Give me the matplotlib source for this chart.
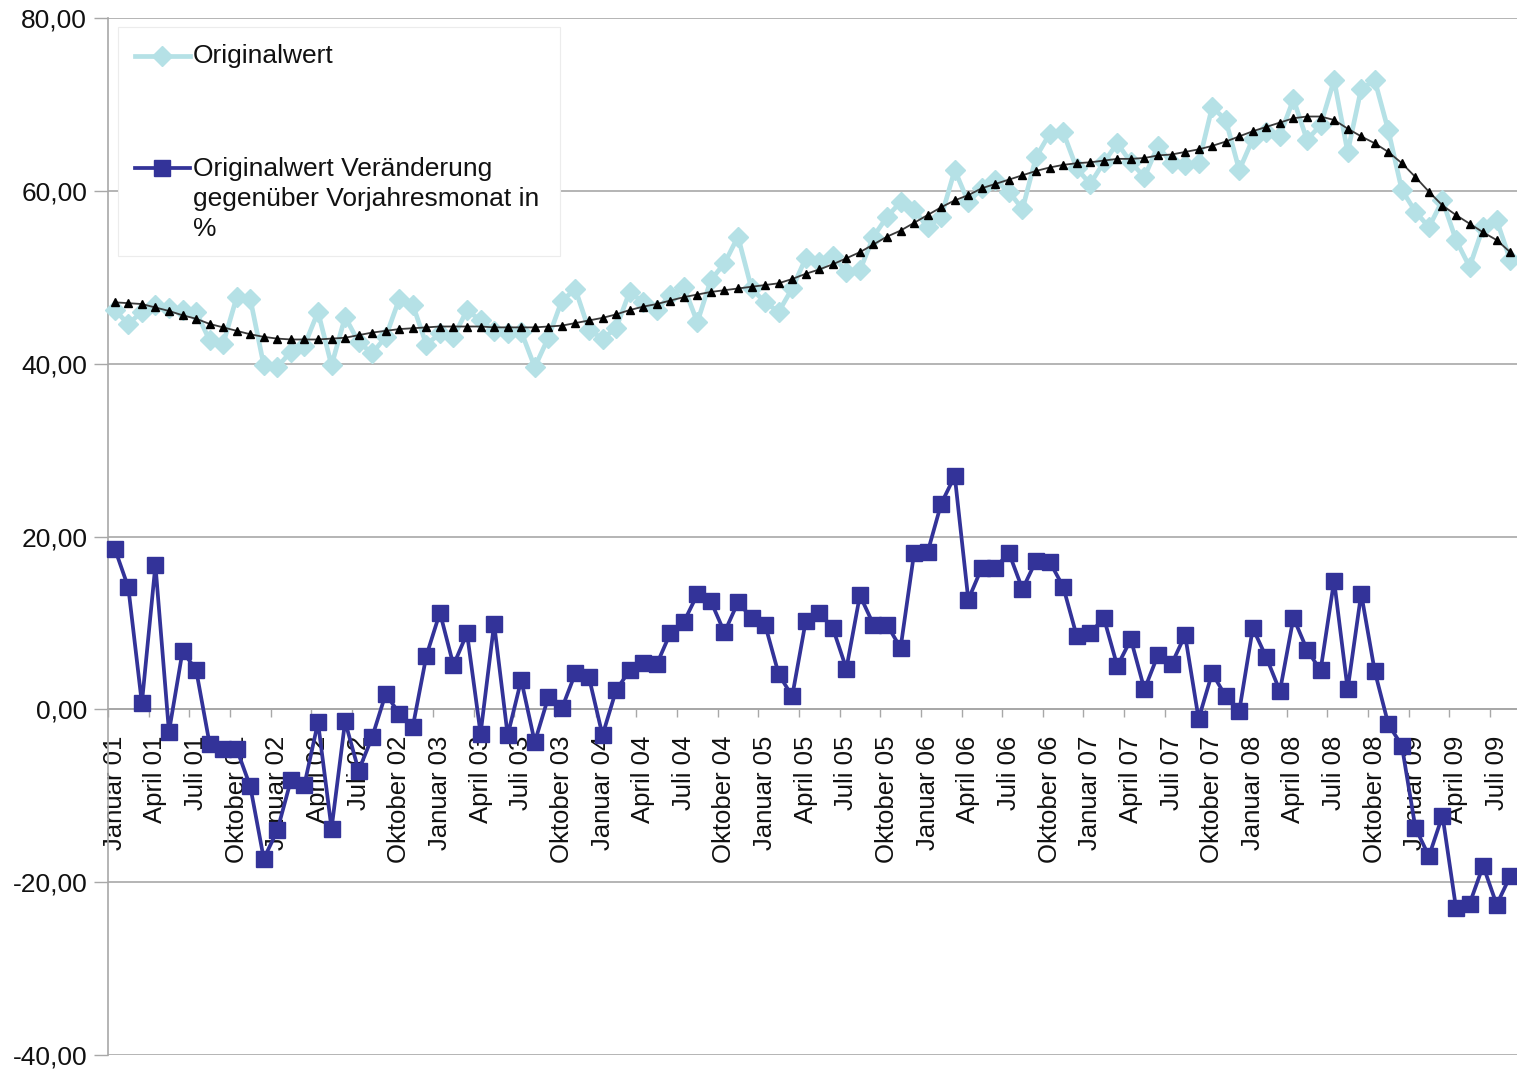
import matplotlib
matplotlib.use('Agg')
import matplotlib.pyplot as plt
from matplotlib.lines import Line2D
from matplotlib.patches import Rectangle
import numpy as np

plt.rcParams['font.family'] = ['Liberation Sans', 'DejaVu Sans']

# ---------------- data ----------------
month_names = ["Januar", "Februar", "März", "April", "Mai", "Juni", "Juli",
               "August", "September", "Oktober", "November", "Dezember"]
years = ["01", "02", "03", "04", "05", "06", "07", "08", "09"]
n_months = 104  # Januar 01 .. August 09
categories = [f"{m} {y}" for y in years for m in month_names][:n_months]

originalwert = [
    46.2, 44.6, 46.0, 46.8, 46.4, 46.2, 46.0, 42.7, 42.3, 47.7,
    47.5, 39.8, 39.6, 41.4, 42.1, 46.0, 39.8, 45.4, 42.5, 41.2,
    43.1, 47.5, 46.8, 42.2, 43.5, 43.1, 46.2, 45.0, 43.8, 43.6,
    43.7, 39.6, 43.0, 47.3, 48.6, 43.9, 42.9, 44.1, 48.3, 47.1,
    46.2, 47.9, 48.9, 44.8, 49.7, 51.6, 54.7, 48.7, 47.1, 46.0,
    48.7, 52.2, 51.8, 52.5, 50.6, 50.8, 54.7, 57.0, 58.7, 57.8,
    55.8, 57.0, 62.4, 58.7, 60.3, 61.2, 59.9, 57.9, 63.9, 66.6,
    66.8, 62.6, 60.8, 63.3, 65.5, 63.3, 61.6, 65.2, 63.2, 63.0,
    63.2, 69.7, 68.2, 62.4, 66.0, 66.8, 66.4, 70.6, 65.9, 67.6,
    72.8, 64.5, 71.8, 72.8, 67.0, 60.1, 57.6, 55.8, 58.9, 54.3,
    51.2, 55.8, 56.6, 52.0]

trend = [
    47.1, 47.0, 46.9, 46.5, 46.1, 45.6, 45.2, 44.6, 44.2, 43.8,
    43.4, 43.1, 42.9, 42.8, 42.8, 42.8, 42.9, 43.0, 43.3, 43.6,
    43.8, 44.0, 44.1, 44.2, 44.3, 44.3, 44.3, 44.3, 44.2, 44.2,
    44.2, 44.2, 44.3, 44.4, 44.7, 45.0, 45.3, 45.7, 46.2, 46.6,
    46.9, 47.3, 47.7, 48.0, 48.3, 48.5, 48.7, 48.9, 49.1, 49.3,
    49.8, 50.4, 50.9, 51.5, 52.2, 52.9, 53.8, 54.7, 55.4, 56.3,
    57.2, 58.1, 58.9, 59.5, 60.3, 60.8, 61.3, 61.8, 62.3, 62.7,
    63.0, 63.2, 63.3, 63.5, 63.7, 63.7, 63.8, 64.1, 64.2, 64.5,
    64.8, 65.2, 65.7, 66.3, 66.9, 67.4, 67.9, 68.4, 68.6, 68.6,
    68.2, 67.2, 66.3, 65.5, 64.5, 63.2, 61.6, 59.9, 58.3, 57.2,
    56.2, 55.2, 54.3, 52.9]

veraenderung = [
    18.6, 14.1, 0.7, 16.7, -2.6, 6.7, 4.6, -4.0, -4.6, -4.6,
    -8.9, -17.3, -14.0, -8.2, -8.7, -1.5, -13.8, -1.4, -7.1, -3.2,
    1.8, -0.5, -2.0, 6.2, 11.2, 5.1, 8.8, -2.8, 9.9, -3.0,
    3.4, -3.8, 1.4, 0.1, 4.2, 3.7, -3.0, 2.2, 4.5, 5.4,
    5.2, 8.8, 10.1, 13.3, 12.5, 8.9, 12.4, 10.6, 9.8, 4.1,
    1.5, 10.2, 11.2, 9.4, 4.7, 13.2, 9.8, 9.8, 7.1, 18.1,
    18.2, 23.8, 27.0, 12.7, 16.4, 16.4, 18.1, 13.9, 17.2, 17.1,
    14.2, 8.5, 8.8, 10.6, 5.0, 8.1, 2.3, 6.3, 5.2, 8.6,
    -1.1, 4.2, 1.5, -0.2, 9.4, 6.0, 2.1, 10.6, 6.9, 4.5,
    14.9, 2.3, 13.4, 4.4, -1.7, -4.2, -13.7, -17.0, -12.3, -23.0,
    -22.5, -18.1, -22.6, -19.3]

y_ticks = [-40, -20, 0, 20, 40, 60, 80]
y_labels = [f"{v:.2f}".replace('.', ',') for v in y_ticks]

legend_label_1 = "Originalwert"
legend_label_2 = "Originalwert Veränderung\ngegenüber Vorjahresmonat in\n%"

# ---------------- figure ----------------
W, H = 1517, 1070
fig = plt.figure(figsize=(W / 100, H / 100), dpi=100)
ax = fig.add_axes([108 / W, 1 - 1055 / H, 1 - 108 / W, (1055 - 18) / H])

c_light = '#B5E1E6'
c_dark = '#333399'
c_grid = '#A8A8A8'
c_text = '#111111'

x = np.arange(len(categories))
ax.plot(x, originalwert, color=c_light, lw=3.4, marker='D', ms=10,
        mfc=c_light, mec=c_light, zorder=3, clip_on=False)
ax.plot(x, trend, color='#3a3a3a', lw=1.3, marker='^', ms=5.5,
        mfc='black', mec='black', zorder=4)
ax.plot(x, veraenderung, color=c_dark, lw=2.7, marker='s', ms=11,
        mfc=c_dark, mec=c_dark, zorder=5, clip_on=False)

ax.set_xlim(-0.5, len(categories) - 0.5)
ax.set_ylim(-40, 80)

# spines
for s in ['top', 'right']:
    ax.spines[s].set_visible(False)
ax.spines['left'].set_color(c_grid)
ax.spines['left'].set_linewidth(1.2)
ax.spines['bottom'].set_position(('data', 0))
ax.spines['bottom'].set_color(c_grid)
ax.spines['bottom'].set_linewidth(1.4)

# y axis
ax.set_yticks(y_ticks)
ax.set_yticklabels(y_labels)
ax.tick_params(axis='y', length=10, width=1.0, color=c_grid, pad=5,
               labelsize=19, labelcolor=c_text)
ax.yaxis.grid(True, color=c_grid, lw=1.2)
ax.set_axisbelow(True)

# x axis
ax.set_xticks(x[::3])
ax.set_xticklabels(categories[::3], rotation=90, va='top', ha='center')
ax.tick_params(axis='x', which='major', length=0, pad=19, labelsize=18.5,
               labelcolor=c_text)
ax.set_xticks(np.arange(-0.5, len(categories), 3), minor=True)
ax.tick_params(axis='x', which='minor', length=6, width=1.0, color=c_grid,
               direction='out')

# ---------------- legend (Excel style) ----------------
tf = fig.transFigure
ax.add_patch(Rectangle((118 / W, 1 - 256 / H), (560 - 118) / W, (256 - 27) / H,
                       transform=tf, facecolor='white', edgecolor='#ECECEC',
                       lw=0.8, zorder=10, clip_on=False))
for yy, col, mk, lw, ms in [(56, c_light, 'D', 3.4, 10), (168, c_dark, 's', 2.7, 11)]:
    ax.add_line(Line2D([135 / W, 190 / W], [1 - yy / H, 1 - yy / H], transform=tf,
                       color=col, lw=lw, zorder=11, clip_on=False))
    ax.add_line(Line2D([162 / W], [1 - yy / H], transform=tf, color=col,
                       marker=mk, ms=ms, mfc=col, mec=col,
                       lw=0, zorder=12, clip_on=False))
fig.text(193 / W, 1 - 56 / H, legend_label_1, va='center', ha='left',
         fontsize=19, color=c_text, zorder=20)
fig.text(193 / W, 1 - 157 / H, legend_label_2, va='top', ha='left',
         fontsize=19, color=c_text, linespacing=1.32, zorder=20)

fig.savefig('out.png', dpi=100)
